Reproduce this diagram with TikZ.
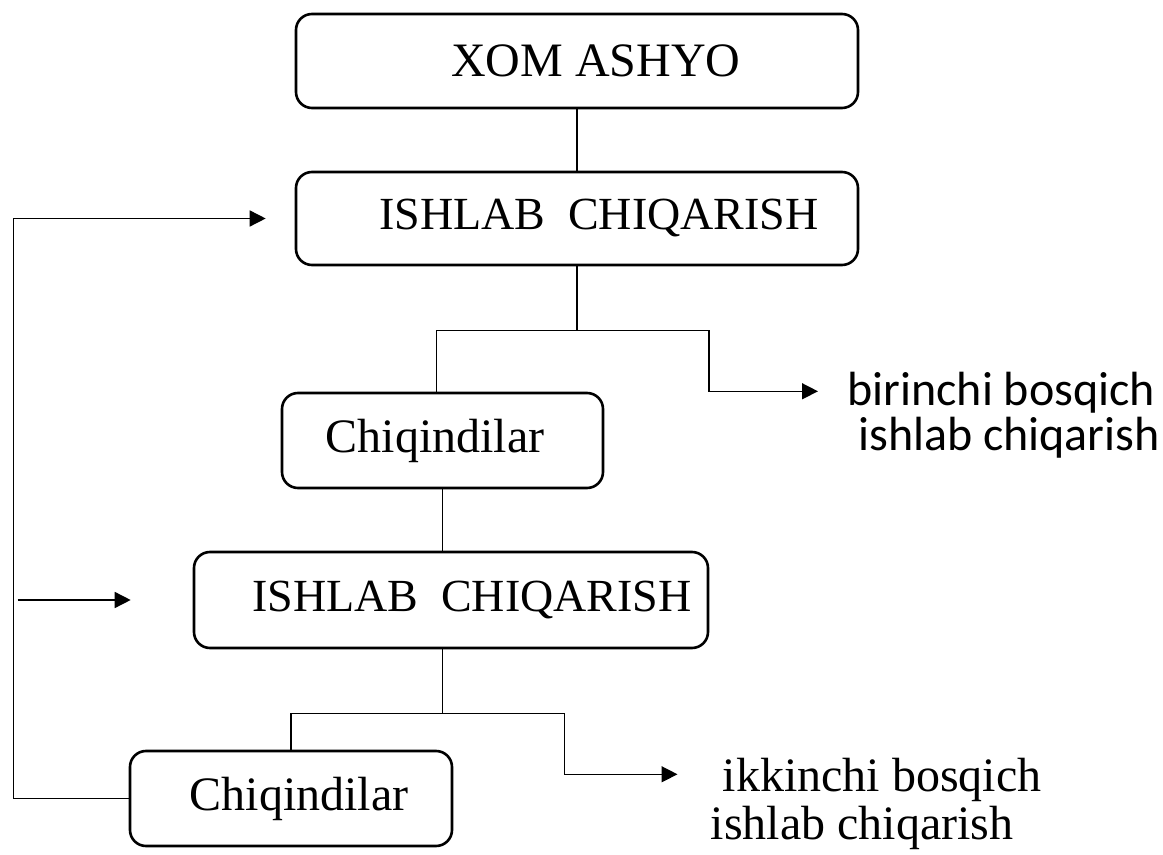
\documentclass[tikz,border=0pt]{standalone}
\usepackage{fontspec}
\setmainfont{Liberation Serif}
\newfontfamily\carlitofont{Carlito}
\usepackage{tikz}
\usetikzlibrary{arrows.meta, positioning, calc}
\tikzset{
    block/.style={draw, line width=1.3pt, rounded corners=8pt, inner sep=0pt,
        minimum width=281pt, minimum height=47pt, font=\fontsize{24}{24}\selectfont},
    link/.style={line width=0.75pt},
    flow/.style={line width=0.75pt, -{Triangle[length=8pt, width=8pt]}},
    outtext/.style={anchor=north west, inner sep=0pt, align=left},
}

\begin{document}
\begin{tikzpicture}
    \useasboundingbox (0,0) rectangle (581.5pt,-427.5pt);

    \node[block] (raw) at (288.5pt,-30.5pt) {\hspace*{19pt}XOM ASHYO};
    \node[block, minimum height=46.5pt, font=\fontsize{23}{23}\selectfont,
        below=30.7pt of raw] (prod1) {\hspace*{22pt}ISHLAB\ \ CHIQARISH};
    \node[block, minimum width=160.5pt, minimum height=47.5pt,
        below=62.7pt of prod1, xshift=-67.25pt] (waste1) {Chiqindilar\hspace*{7.5pt}};
    \node[block, minimum width=257pt, minimum height=48pt, font=\fontsize{23}{23}\selectfont,
        below=30.7pt of waste1, xshift=4.25pt] (prod2) {\hspace*{21pt}ISHLAB\ \ CHIQARISH};
    \node[block, minimum width=161pt, minimum height=47.5pt,
        below=50.2pt of prod2, xshift=-80pt] (waste2) {\hspace*{8pt}Chiqindilar};

    \coordinate[below=32pt of prod1.south] (fork1);
    \coordinate[right=66pt of fork1] (bend1);
    \coordinate (tip1) at ($(bend1)+(54.5pt,-30.5pt)$);
    \coordinate (fork2) at ($(waste1.south |- prod2.south)+(0,-32pt)$);
    \coordinate (bend2) at ($(fork2)+(61pt,0)$);
    \coordinate (tip2) at ($(bend2)+(56.5pt,-30.5pt)$);
    \coordinate[left=57.5pt of waste2.west] (back);

    \node[outtext, font=\carlitofont\fontsize{24}{22.5}\selectfont]
        (stage1) at ($(tip1)+(14.5pt,10pt)$) {birinchi bosqich\\\ ishlab chiqarish};
    \node[outtext, font=\fontsize{24}{24}\selectfont]
        (stage2) at ($(tip2)+(16.5pt,8.4pt)$) {\ ikkinchi bosqich\\ishlab chiqarish};

    \draw[link] (raw) -- (prod1);
    \draw[link] (prod1) -- (fork1);
    \draw[link] ([xshift=-3pt]waste1.north) |- (fork1);
    \draw[flow] (fork1) -- (bend1) |- (tip1);
    \draw[link] (waste1.south) -- (waste1.south |- prod2.north);
    \draw[link] (waste1.south |- prod2.south) -- (fork2);
    \draw[link] (waste2.north) |- (fork2);
    \draw[flow] (fork2) -- (bend2) |- (tip2);
    \draw[flow, shorten >=14.5pt] (waste2.west) -- (back) |- (prod1.west);
    \draw[flow, shorten >=31pt, shorten <=2pt] (back |- prod2.west) -- (prod2.west);
\end{tikzpicture}
\end{document}
